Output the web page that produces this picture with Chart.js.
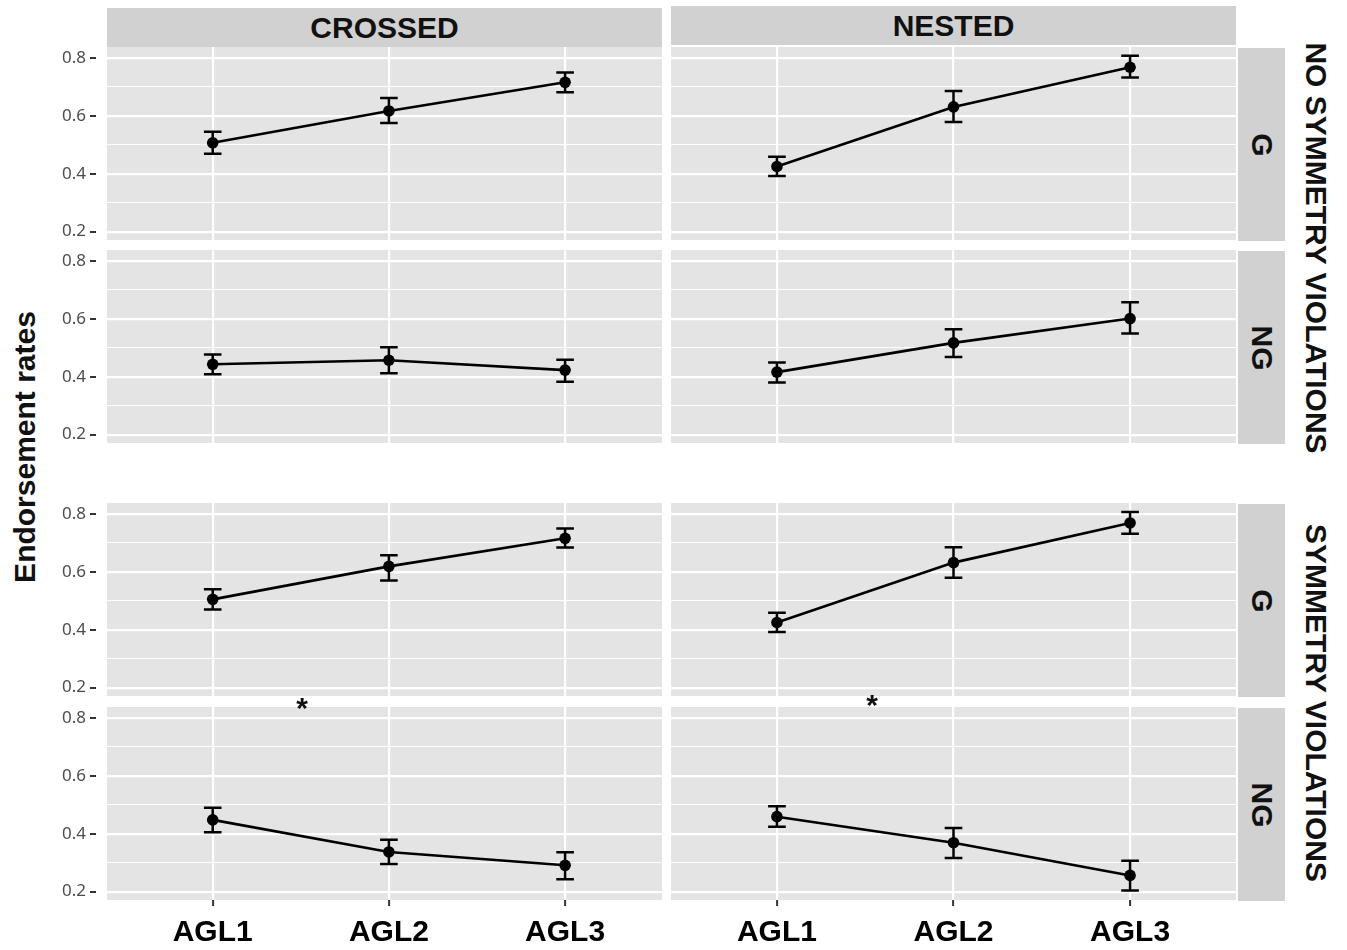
<!doctype html>
<html>
<head>
<title>Endorsement rates</title>
<script src="https://cdn.jsdelivr.net/npm/chart.js@4.4.1/dist/chart.umd.min.js"></script>
<style>
  body { margin: 0; background: #fff; }
  #page { position: relative; width: 1347px; height: 950px; overflow: hidden; font-family: "Liberation Sans", Arial, sans-serif; }
  canvas { position: absolute; z-index: 1; }
  .strip { position: absolute; background: #d1d1d1; }
  .txt { position: absolute; z-index: 2; font-weight: bold; font-size: 30px; line-height: 1; white-space: nowrap; color: #111; }
</style>
</head>
<body>
<div id="page"></div>
<script>
// ---- data ----
var categories = ['AGL1', 'AGL2', 'AGL3'];
var yTicks = [0.2, 0.4, 0.6, 0.8];
var gridLines = [0.2, 0.3, 0.4, 0.5, 0.6, 0.7, 0.8];
var columnLabels = ['CROSSED', 'NESTED'];
var rowLabels = ['G', 'NG', 'G', 'NG'];
var groupLabels = ['NO SYMMETRY VIOLATIONS', 'SYMMETRY VIOLATIONS'];

// no symmetry violations, G
var crossedNoSymG = [0.507, 0.617, 0.716];
var crossedNoSymGLow = [0.469, 0.575, 0.682];
var crossedNoSymGHigh = [0.545, 0.662, 0.750];
var nestedNoSymG = [0.425, 0.631, 0.768];
var nestedNoSymGLow = [0.392, 0.579, 0.733];
var nestedNoSymGHigh = [0.459, 0.686, 0.808];
// no symmetry violations, NG
var crossedNoSymNG = [0.443, 0.457, 0.423];
var crossedNoSymNGLow = [0.409, 0.412, 0.383];
var crossedNoSymNGHigh = [0.477, 0.502, 0.459];
var nestedNoSymNG = [0.416, 0.517, 0.601];
var nestedNoSymNGLow = [0.380, 0.468, 0.549];
var nestedNoSymNGHigh = [0.449, 0.564, 0.657];
// symmetry violations, G
var crossedSymG = [0.505, 0.619, 0.716];
var crossedSymGLow = [0.470, 0.570, 0.684];
var crossedSymGHigh = [0.540, 0.657, 0.750];
var nestedSymG = [0.425, 0.632, 0.769];
var nestedSymGLow = [0.392, 0.580, 0.732];
var nestedSymGHigh = [0.459, 0.685, 0.807];
// symmetry violations, NG
var crossedSymNG = [0.448, 0.337, 0.291];
var crossedSymNGLow = [0.405, 0.295, 0.243];
var crossedSymNGHigh = [0.490, 0.379, 0.336];
var nestedSymNG = [0.459, 0.369, 0.256];
var nestedSymNGLow = [0.424, 0.316, 0.204];
var nestedSymNGHigh = [0.495, 0.420, 0.307];

var panels = [
  [[crossedNoSymG, crossedNoSymGLow, crossedNoSymGHigh], [nestedNoSymG, nestedNoSymGLow, nestedNoSymGHigh]],
  [[crossedNoSymNG, crossedNoSymNGLow, crossedNoSymNGHigh], [nestedNoSymNG, nestedNoSymNGLow, nestedNoSymNGHigh]],
  [[crossedSymG, crossedSymGLow, crossedSymGHigh], [nestedSymG, nestedSymGLow, nestedSymGHigh]],
  [[crossedSymNG, crossedSymNGLow, crossedSymNGHigh], [nestedSymNG, nestedSymNGLow, nestedSymNGHigh]]
];

// ---- layout ----
var colBox = [{ left: 107, right: 662, xMin: 0.4, xMax: 3.55 }, { left: 671, right: 1236, xMin: 0.4, xMax: 3.6 }];
var rowBox = [{ top: 47, bottom: 240 }, { top: 250, bottom: 443 }, { top: 503, bottom: 696 }, { top: 707, bottom: 900 }];
var yMin = 0.171, yMax = 0.838;
var page = document.getElementById('page');

function addText(text, cx, cy, rot, extra) {
  var d = document.createElement('div');
  d.className = 'txt';
  d.textContent = text;
  d.style.left = cx + 'px';
  d.style.top = cy + 'px';
  d.style.transform = 'translate(-50%,-50%) rotate(' + rot + 'deg)';
  if (extra) Object.assign(d.style, extra);
  page.appendChild(d);
}

function addStrip(l, t, w, h) {
  var d = document.createElement('div');
  d.className = 'strip';
  d.style.left = l + 'px'; d.style.top = t + 'px';
  d.style.width = w + 'px'; d.style.height = h + 'px';
  page.appendChild(d);
}

// top strips
addStrip(107, 8, 555, 39);
addStrip(671, 6, 565, 39);
addText(columnLabels[0], (107 + 662) / 2, 28, 0);
addText(columnLabels[1], (671 + 1236) / 2, 26, 0);
// right strips
rowBox.forEach(function(r, i) {
  addStrip(1238, r.top + 1, 47, r.bottom - r.top);
  addText(rowLabels[i], 1262, (r.top + r.bottom) / 2 + 1, 90);
});
addText(groupLabels[0], 1316, 248, 90);
addText(groupLabels[1], 1316, 703, 90);
addText('Endorsement rates', 25, 447, -90);
addText('*', 302, 708, 0);
addText('*', 872, 705, 0);

var panelPlugin = {
  id: 'panel',
  beforeDraw: function(chart) {
    var a = chart.chartArea, ctx = chart.ctx;
    ctx.save();
    ctx.fillStyle = '#e4e4e4';
    ctx.fillRect(a.left, a.top, a.right - a.left, a.bottom - a.top);
    ctx.restore();
  },
  afterDatasetsDraw: function(chart, args, opts) {
    var ctx = chart.ctx, xs = chart.scales.x, ys = chart.scales.y;
    var half = xs.getPixelForValue(1.05) - xs.getPixelForValue(1);
    ctx.save();
    ctx.strokeStyle = '#000';
    ctx.lineWidth = 2.5;
    opts.low.forEach(function(lo, i) {
      var px = xs.getPixelForValue(i + 1);
      var y1 = ys.getPixelForValue(lo), y2 = ys.getPixelForValue(opts.high[i]);
      ctx.beginPath();
      ctx.moveTo(px, y1); ctx.lineTo(px, y2);
      ctx.moveTo(px - half, y1); ctx.lineTo(px + half, y1);
      ctx.moveTo(px - half, y2); ctx.lineTo(px + half, y2);
      ctx.stroke();
    });
    ctx.restore();
  }
};

function noPad(s) {
  s.paddingTop = 0; s.paddingBottom = 0; s.paddingLeft = 0; s.paddingRight = 0;
}

function makePanel(r, c) {
  var isLeft = c === 0, isBottom = r === 3;
  var col = colBox[c], row = rowBox[r];
  var left = isLeft ? 45 : col.left;
  var top = row.top;
  var w = col.right - left;
  var h = (isBottom ? 950 : row.bottom) - top;
  var cv = document.createElement('canvas');
  cv.width = w; cv.height = h;
  cv.style.left = left + 'px'; cv.style.top = top + 'px';
  cv.style.width = w + 'px'; cv.style.height = h + 'px';
  page.appendChild(cv);

  var p = panels[r][c];
  new Chart(cv.getContext('2d'), {
    type: 'line',
    data: {
      datasets: [{
        data: p[0].map(function(v, i) { return { x: i + 1, y: v }; }),
        borderColor: '#000',
        backgroundColor: '#000',
        borderWidth: 2.6,
        pointRadius: 5.8,
        pointBorderWidth: 0,
        tension: 0
      }]
    },
    options: {
      responsive: false,
      animation: false,
      devicePixelRatio: 1,
      layout: { padding: 0, autoPadding: false },
      plugins: {
        legend: { display: false },
        tooltip: { enabled: false },
        panel: { low: p[1], high: p[2] }
      },
      scales: {
        x: {
          type: 'linear',
          min: col.xMin,
          max: col.xMax,
          afterBuildTicks: function(s) { s.ticks = categories.map(function(_, i) { return { value: i + 1 }; }); },
          grid: { color: '#fff', lineWidth: 2.2, drawTicks: isBottom, tickLength: 6, tickColor: '#333', tickWidth: 2 },
          border: { display: false },
          ticks: {
            display: isBottom,
            padding: 9,
            color: '#000',
            autoSkip: false,
            maxRotation: 0,
            font: { family: 'Liberation Sans', size: 30, weight: 'bold' },
            callback: function(v) { return categories[Math.round(v) - 1]; }
          },
          afterFit: function(s) { s.height = isBottom ? 50 : 0; noPad(s); }
        },
        y: {
          type: 'linear',
          position: 'left',
          weight: 0,
          min: yMin,
          max: yMax,
          afterBuildTicks: function(s) { s.ticks = gridLines.map(function(v) { return { value: v }; }); },
          grid: {
            color: '#fff',
            lineWidth: function(ctx) { return Math.round(ctx.tick.value * 10) % 2 === 0 ? 2.2 : 1.1; },
            drawTicks: isLeft,
            tickLength: 11,
            tickColor: 'rgba(0,0,0,0)'
          },
          border: { display: false },
          ticks: { display: false },
          afterFit: function(s) { s.width = isLeft ? 11 : 0; noPad(s); }
        },
        yt: {
          type: 'linear',
          position: 'left',
          weight: 1,
          display: isLeft,
          min: yMin,
          max: yMax,
          afterBuildTicks: function(s) { s.ticks = yTicks.map(function(v) { return { value: v }; }); },
          grid: { drawOnChartArea: false, tickLength: 6, tickColor: '#333', lineWidth: 2 },
          border: { display: false },
          ticks: {
            padding: 4,
            color: '#4d4d4d',
            font: { family: 'Noto Sans', size: 17 },
            callback: function(v) { return v.toFixed(1); }
          },
          afterFit: function(s) { s.width = isLeft ? 51 : 0; noPad(s); }
        }
      }
    },
    plugins: [panelPlugin]
  });
}

for (var r = 0; r < 4; r++) {
  for (var c = 0; c < 2; c++) makePanel(r, c);
}
</script>
</body>
</html>
